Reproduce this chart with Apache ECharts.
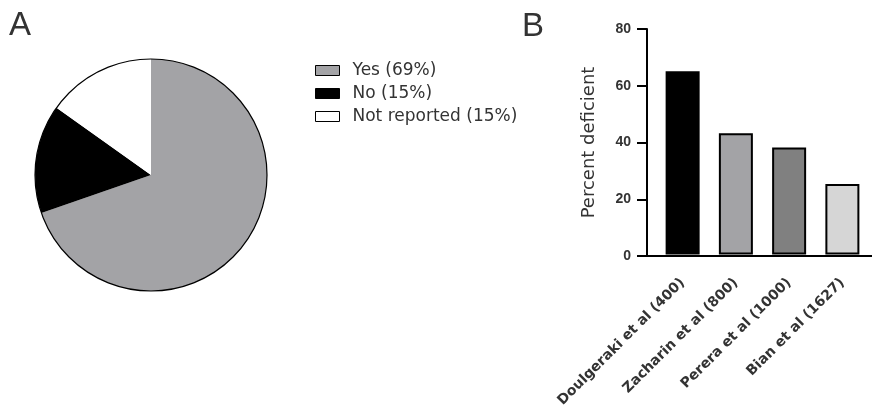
<!DOCTYPE html>
<html><head><meta charset="utf-8">
<script src="https://cdn.jsdelivr.net/npm/echarts@6/dist/echarts.min.js"></script>
<style>html,body{margin:0;padding:0;background:#fff}#c{width:872px;height:410px}</style>
</head><body><div id="c"></div>
<script>
const pieNames = ['Yes (69%)', 'No (15%)', 'Not reported (15%)'];
const pieValues = [69, 15, 15];
const pieColors = ['#a3a3a6', '#000000', '#ffffff'];

const studies = ['Doulgeraki et al (400)', 'Zacharin et al (800)', 'Perera et al (1000)', 'Bian et al (1627)'];
const percentDeficient = [65, 43, 38, 25];
const barColors = ['#000000', '#a3a3a6', '#808080', '#d6d6d6'];
const yTicks = { min: 0, max: 80, interval: 20 };

const chart = echarts.init(document.getElementById('c'), null, { renderer: 'canvas' });
const font = 'Arial, "Liberation Sans", sans-serif';
const wide = '"DejaVu Sans", sans-serif';

chart.setOption({
  animation: false,
  textStyle: { fontFamily: font },
  graphic: [
    { type: 'text', left: 9, top: 9, style: { text: 'A', font: '33px ' + font, fill: '#333' } },
    { type: 'text', left: 522, top: 10, style: { text: 'B', font: '33px ' + font, fill: '#333' } }
  ],
  legend: {
    left: 315, top: 62, orient: 'vertical', padding: 0,
    itemWidth: 24, itemHeight: 10, itemGap: 6,
    icon: 'rect',
    data: pieNames,
    textStyle: { fontSize: 17, lineHeight: 17, color: '#333', fontFamily: wide, padding: [0, 0, 0, 8] },
    itemStyle: { borderColor: '#000', borderWidth: 1 }
  },
  grid: [
    { left: 656, right: 3, top: 29, bottom: 154 },
    { left: 647, right: 0, top: 29, bottom: 154 }
  ],
  xAxis: [
    {
      type: 'category', gridIndex: 0, data: studies,
      axisLine: { show: false },
      axisTick: { alignWithLabel: true, length: 8, lineStyle: { color: '#000', width: 1.5 } },
      axisLabel: { rotate: 45, fontSize: 14, fontWeight: 'bold', fontFamily: wide, color: '#333', margin: 26, interval: 0 }
    },
    {
      type: 'value', gridIndex: 1, min: 0, max: 1,
      axisLine: { show: true, lineStyle: { color: '#000', width: 2 } },
      axisTick: { show: false }, axisLabel: { show: false }, splitLine: { show: false }
    }
  ],
  yAxis: [
    {
      type: 'value', gridIndex: 0, min: yTicks.min, max: yTicks.max, interval: yTicks.interval,
      show: false
    },
    {
      type: 'value', gridIndex: 1, min: yTicks.min, max: yTicks.max, interval: yTicks.interval,
      axisLine: { show: true, lineStyle: { color: '#000', width: 2 } },
      axisTick: { show: true, length: 10, lineStyle: { color: '#000', width: 2 } },
      axisLabel: { fontSize: 14, fontWeight: 'bold', color: '#333', margin: 16 },
      splitLine: { show: false },
      name: 'Percent deficient', nameLocation: 'middle', nameGap: 49,
      nameTextStyle: { fontSize: 18, color: '#333', fontFamily: wide }
    }
  ],
  series: [
    {
      type: 'pie', center: [151, 175], radius: 116, startAngle: 90, clockwise: true,
      label: { show: false }, labelLine: { show: false }, silent: true,
      data: pieNames.map((n, i) => ({ name: n, value: pieValues[i], itemStyle: { color: pieColors[i], borderWidth: 0 } }))
    },
    {
      type: 'pie', center: [151, 175], radius: 116, silent: true,
      label: { show: false }, labelLine: { show: false },
      data: [{ name: '_outline', value: 1, itemStyle: { color: 'rgba(0,0,0,0)', borderColor: '#000', borderWidth: 1.2 } }],
      legendHoverLink: false
    },
    {
      type: 'bar', xAxisIndex: 0, yAxisIndex: 0, barWidth: 34,
      data: percentDeficient.map((v, i) => ({ value: v, itemStyle: { color: barColors[i], borderColor: '#000', borderWidth: 2 } }))
    }
  ]
});
</script></body></html>
